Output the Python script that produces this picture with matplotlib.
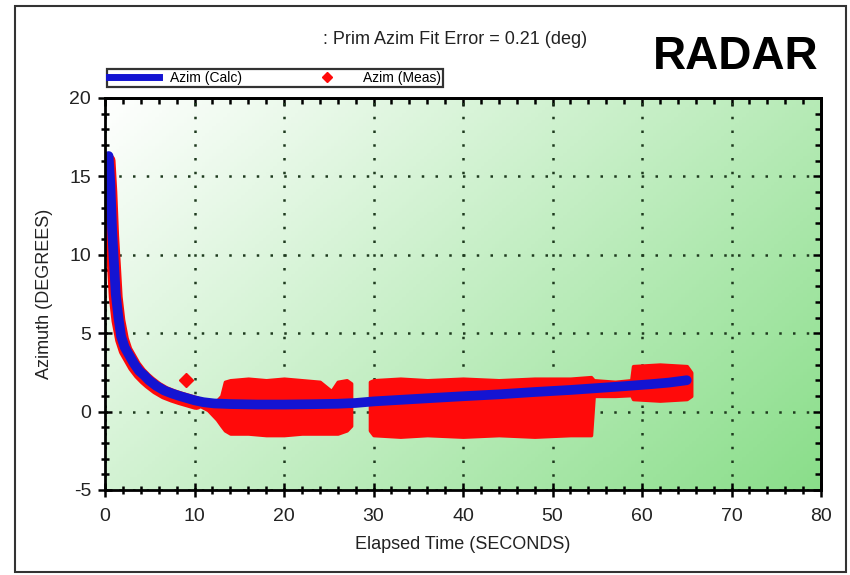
import numpy as np
import matplotlib
matplotlib.use("Agg")
import matplotlib.pyplot as plt
from matplotlib.lines import Line2D
from matplotlib.patches import Rectangle
from matplotlib import font_manager

_names = {f.name for f in font_manager.fontManager.ttflist}
narrow = 'Liberation Sans Narrow' if 'Liberation Sans Narrow' in _names else 'Liberation Sans'
plt.rcParams['font.family'] = ['Liberation Sans', 'DejaVu Sans']
plt.rcParams['axes.unicode_minus'] = False

# ---------------- data ----------------
calc_t = [0.4, 0.6, 0.8, 1.0, 1.2, 1.5, 1.8, 2.2, 2.7, 3.2, 3.8, 4.4, 4.9, 5.7, 6.6,
          7.5, 8.3, 9.2, 10.0, 11.0, 12.2, 14.0, 17.0, 20.0, 23.0, 26.0, 28.0, 30.0,
          33.0, 36.0, 40.0, 44.0, 48.0, 52.0, 55.0, 58.0, 61.0, 63.0, 65.0]
calc_az = [16.3, 14.5, 11.5, 9.5, 7.5, 6.0, 4.8, 4.1, 3.6, 3.1, 2.6, 2.3, 2.0, 1.65, 1.35,
           1.15, 1.0, 0.85, 0.72, 0.6, 0.52, 0.48, 0.45, 0.45, 0.47, 0.5, 0.55, 0.65,
           0.75, 0.85, 0.98, 1.1, 1.25, 1.38, 1.5, 1.62, 1.75, 1.85, 2.0]

# measured points hugging the fit during the first seconds
meas_early_t = [0.4, 0.6, 0.8, 1.0, 1.2, 1.5, 1.9, 2.3, 2.8, 3.3, 3.9, 4.5, 5.0, 5.8,
                6.7, 7.6, 8.4, 9.3, 10.2]
meas_early_az = [16.0, 14.0, 11.2, 9.3, 7.3, 5.8, 4.6, 3.9, 3.4, 2.9, 2.45, 2.1, 1.85,
                 1.5, 1.2, 1.0, 0.85, 0.7, 0.55]

# measured scatter envelope, first block (about 10.5 s to 27.5 s)
meas1_t = [10.5, 11.5, 12.5, 13.0, 13.4, 14.0, 16.0, 18.0, 20.0, 22.0, 24.0, 25.3,
           26.0, 27.0, 27.5]
meas1_hi = [0.8, 0.7, 0.7, 1.0, 1.9, 2.0, 2.1, 2.0, 2.1, 2.0, 1.9, 1.3, 1.9, 2.0, 1.8]
meas1_lo = [0.4, 0.1, -0.5, -0.9, -1.2, -1.4, -1.4, -1.5, -1.5, -1.4, -1.4, -1.4,
            -1.4, -1.2, -0.9]

# measured scatter envelope, second block (about 29.6 s to 65.5 s)
meas2_t = [29.6, 30.0, 33.0, 36.0, 40.0, 44.0, 48.0, 52.0, 54.3, 54.6, 57.0, 58.8,
           59.0, 62.0, 65.0, 65.5]
meas2_hi = [1.9, 2.0, 2.1, 2.0, 2.1, 2.0, 2.1, 2.1, 2.2, 2.0, 1.9, 2.0, 2.9, 3.0,
            2.9, 2.5]
meas2_lo = [-1.2, -1.5, -1.6, -1.5, -1.6, -1.5, -1.6, -1.5, -1.5, 1.0, 1.0, 1.05,
            0.8, 0.7, 0.8, 1.0]

outlier_t = [9.0]
outlier_az = [2.0]

x_ticks = [0, 10, 20, 30, 40, 50, 60, 70, 80]
y_ticks = [-5, 0, 5, 10, 15, 20]

title_text = ": Prim Azim Fit Error = 0.21 (deg)"
badge_text = "RADAR"
x_label = "Elapsed Time (SECONDS)"
y_label = "Azimuth (DEGREES)"
legend_labels = ["Azim (Calc)", "Azim (Meas)"]

# ---------------- figure ----------------
W, H = 850, 575
fig = plt.figure(figsize=(W / 100, H / 100), dpi=100)
fig.patch.set_facecolor('white')
ax = fig.add_axes([105 / W, 1 - 490 / H, (821 - 105) / W, (490 - 98) / H])

# gradient background (white top-left -> green bottom-right)
nx, ny = 200, 120
gx = np.linspace(0, 1, nx)[None, :]
gy = np.linspace(0, 1, ny)[:, None]  # 0 = top row
v = np.clip(0.62 * gx + 0.38 * gy, 0, 1)
c0 = np.array([1.0, 1.0, 1.0])
c1 = np.array([0.54, 0.87, 0.54])
img = c0[None, None, :] * (1 - v[..., None]) + c1[None, None, :] * v[..., None]
ax.imshow(img, extent=[0, 1, 0, 1], transform=ax.transAxes, aspect='auto',
          zorder=0, origin='upper')

ax.set_xlim(0, 80)
ax.set_ylim(-5, 20)

red = '#ff0a0a'
blue = '#1414d2'

ax.fill_between(meas1_t, meas1_lo, meas1_hi, facecolor=red, edgecolor=red,
                linewidth=2.5, zorder=3)
ax.fill_between(meas2_t, meas2_lo, meas2_hi, facecolor=red, edgecolor=red,
                linewidth=2.5, zorder=3)
ax.plot(meas_early_t, meas_early_az, color=red, linewidth=10,
        solid_capstyle='round', zorder=3)
ax.plot(outlier_t, outlier_az, linestyle='none', marker='D', markersize=7,
        color=red, zorder=3)
ax.plot(calc_t, calc_az, color=blue, linewidth=7, solid_capstyle='round',
        solid_joinstyle='round', zorder=4)

# ticks (bottom/left crossing the spine)
ax.set_xticks(x_ticks)
ax.set_yticks(y_ticks)
ax.set_xticks(np.arange(0, 81, 2), minor=True)
ax.set_yticks(np.arange(-5, 21, 1), minor=True)
ax.tick_params(which='both', direction='inout', labelsize=13, width=1.8,
               colors='black')
ax.tick_params(which='major', length=10)
ax.tick_params(which='minor', length=6)
ax.tick_params(axis='x', pad=8)
ax.tick_params(axis='y', pad=5)
for lab in ax.get_xticklabels() + ax.get_yticklabels():
    lab.set_color('#222222')
    lab.set_family([narrow, 'DejaVu Sans'])
    lab.set_fontsize(14)

# top / right ticks pointing inward, no labels
secx = ax.secondary_xaxis('top')
secx.set_xticks(x_ticks)
secx.set_xticks(np.arange(0, 81, 2), minor=True)
secx.tick_params(which='both', direction='in', labeltop=False, width=1.8)
secx.tick_params(which='major', length=6)
secx.tick_params(which='minor', length=4)
secx.spines['top'].set_linewidth(2)
secy = ax.secondary_yaxis('right')
secy.set_yticks(y_ticks)
secy.set_yticks(np.arange(-5, 21, 1), minor=True)
secy.tick_params(which='both', direction='in', labelright=False, width=1.8)
secy.tick_params(which='major', length=6)
secy.tick_params(which='minor', length=4)
secy.spines['right'].set_linewidth(2)

ax.grid(True, which='major', color='#1e3a1e', linestyle=(0, (1, 4.5)),
        linewidth=1.8, zorder=1)
ax.set_axisbelow(False)
for s in ax.spines.values():
    s.set_linewidth(2)
    s.set_zorder(5)

ax.set_xlabel(x_label, fontsize=13, color='#222222', labelpad=8)
ax.set_ylabel(y_label, fontsize=13, color='#222222', labelpad=12)

fig.text(455 / W, 1 - 40 / H, title_text, fontsize=13, color='#222222',
         ha='center', va='center')
fig.text(736 / W, 1 - 57 / H, badge_text, fontsize=33, fontweight='bold',
         color='black', ha='center', va='center')

handles = [Line2D([], [], color=blue, linewidth=5),
           Line2D([], [], color=red, marker='D', markersize=5, linestyle='none')]
leg = fig.legend(handles, legend_labels, loc='lower left',
                 bbox_to_anchor=(107 / W, 1 - 87 / H, (443 - 107) / W, 23 / H),
                 mode='expand', ncol=2, fontsize=10, frameon=True, fancybox=False,
                 handlelength=3.6, borderpad=0.15, borderaxespad=0,
                 handletextpad=0.8, columnspacing=1.0,
                 prop={'family': [narrow, 'DejaVu Sans'], 'size': 10})
leg.get_frame().set_edgecolor('black')
leg.get_frame().set_linewidth(1.6)

# outer frame
fig.patches.append(Rectangle((15 / W, 1 - 572 / H), (846 - 15) / W, (572 - 6) / H,
                             transform=fig.transFigure, fill=False,
                             edgecolor='#333333', linewidth=1.5))

fig.savefig('out.png', dpi=100)
